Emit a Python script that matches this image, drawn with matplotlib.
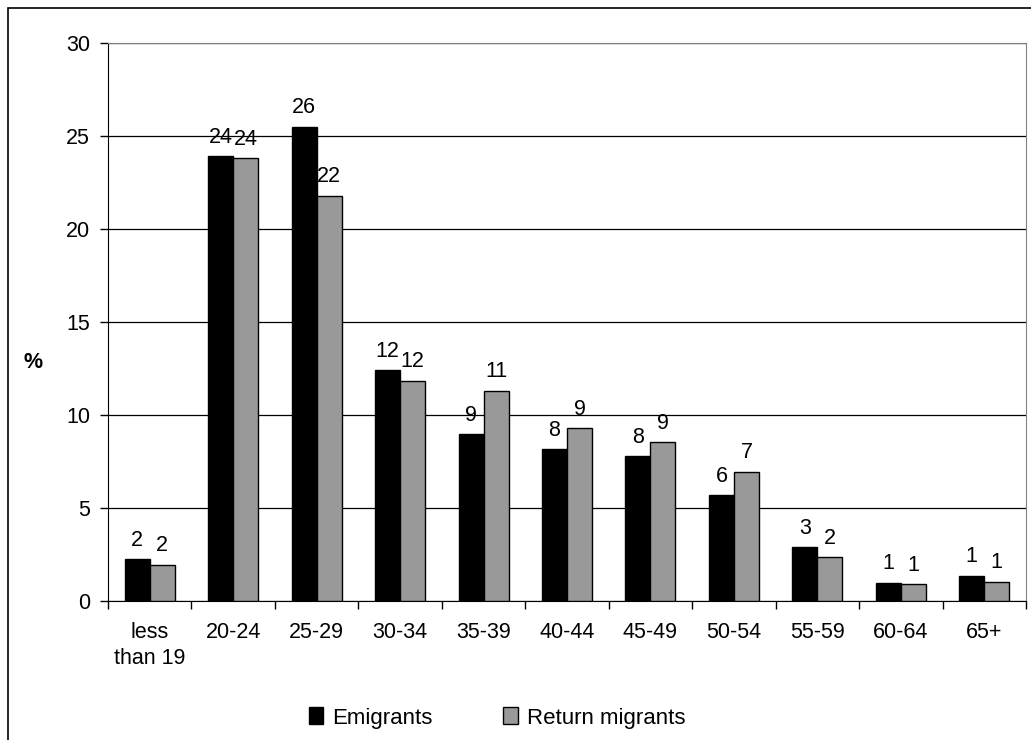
import matplotlib
matplotlib.use("Agg")
import matplotlib.pyplot as plt
from matplotlib.patches import Rectangle, Patch
import numpy as np

plt.rcParams['font.family'] = ['Liberation Sans', 'DejaVu Sans']

categories = ["less\nthan 19", "20-24", "25-29", "30-34", "35-39", "40-44",
              "45-49", "50-54", "55-59", "60-64", "65+"]
emigrants = [2.26, 23.9, 25.5, 12.4, 8.96, 8.15, 7.8, 5.7, 2.9, 0.98, 1.36]
return_migrants = [1.95, 23.8, 21.8, 11.85, 11.3, 9.3, 8.55, 6.95, 2.35, 0.9, 1.04]
yticks = [0, 5, 10, 15, 20, 25, 30]

FS = 15.5
W, H = 1031, 740
fig = plt.figure(figsize=(W / 100, H / 100), dpi=100)
ax = fig.add_axes([108 / W, 1 - 601 / H, (1026 - 108) / W, (601 - 43) / H])

x = np.arange(len(categories))
bw = 0.3
b1 = ax.bar(x - bw / 2, emigrants, bw, color='black', edgecolor='black',
            linewidth=1, label='Emigrants', zorder=3)
b2 = ax.bar(x + bw / 2, return_migrants, bw, color='#999999', edgecolor='black',
            linewidth=1, label='Return migrants', zorder=3)
ax.bar_label(b1, labels=[f"{v:.0f}" for v in emigrants], padding=6, fontsize=FS)
ax.bar_label(b2, labels=[f"{v:.0f}" for v in return_migrants], padding=6, fontsize=FS)

ax.set_xlim(-0.5, len(categories) - 0.5)
ax.set_ylim(0, 30)
ax.set_yticks(yticks)
ax.set_yticklabels([str(t) for t in yticks], fontsize=FS)
ax.yaxis.grid(True, color='black', linewidth=0.9, zorder=0)
ax.set_axisbelow(True)

ax.set_xticks(x)
ax.set_xticklabels(categories, fontsize=FS, linespacing=1.3)
ax.set_xticks(np.arange(len(categories) + 1) - 0.5, minor=True)
ax.tick_params(axis='x', which='major', length=0, pad=15)
ax.tick_params(axis='x', which='minor', length=6, width=1, direction='out', color='black')
ax.tick_params(axis='y', length=6, width=1, direction='out', pad=7)

ax.spines['left'].set_color('black')
ax.spines['bottom'].set_color('black')
ax.spines['top'].set_color('#808080')
ax.spines['right'].set_color('#808080')

fig.text(33 / W, 1 - 362 / H, '%', fontsize=FS, fontweight='bold', ha='center', va='center')

fig.legend(handles=[Patch(facecolor='black', edgecolor='black', label='Emigrants'),
                    Patch(facecolor='#999999', edgecolor='black', label='Return migrants')],
           loc='center', bbox_to_anchor=(497 / W, 1 - 718 / H), ncol=2, frameon=False,
           fontsize=FS + 0.5, handlelength=0.65, handleheight=0.8, handletextpad=0.4,
           columnspacing=3.2)

fig.patches.append(Rectangle((8 / W, -0.1), 1.2, 1 - 8 / H + 0.1, transform=fig.transFigure,
                             fill=False, edgecolor='black', linewidth=1.2))

fig.savefig('out.png', dpi=100)
